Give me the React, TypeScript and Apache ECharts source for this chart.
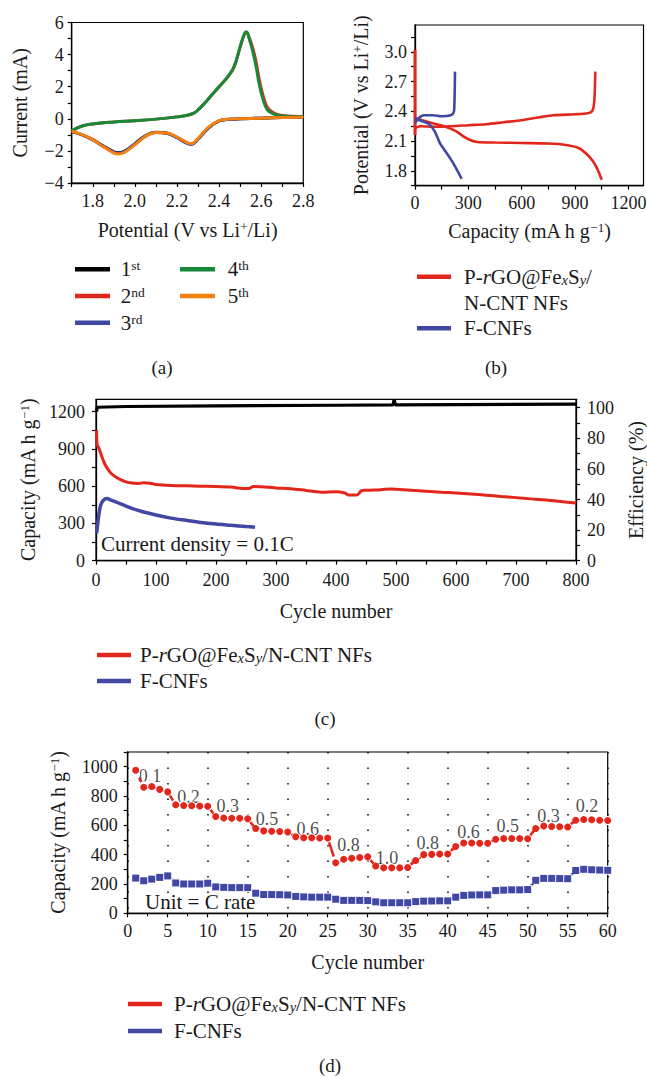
import React, { useEffect, useRef } from "react";
import * as echarts from "echarts";

const FONT = "Liberation Serif";
const INK = "#1a1a1a";
const RED = "#e3261c";
const BLUE = "#4148a3";
const GREEN = "#178a3a";
const ORANGE = "#f5820f";
const BLACK = "#000000";
const PINK = "#f29a96";
const LIGHTBLUE = "#9aa0d8";

// ---------- (a) cyclic voltammetry ----------
const cvPotRed = [1.70, 1.75, 1.80, 1.85, 1.90, 1.92, 1.95, 2.00, 2.05, 2.10, 2.15, 2.20, 2.25, 2.27, 2.30, 2.35, 2.40, 2.45, 2.50, 2.60, 2.70, 2.80];
const cv1st = [-0.80, -1.00, -1.30, -1.70, -2.06, -2.12, -2.02, -1.56, -1.06, -0.84, -0.88, -1.16, -1.52, -1.57, -1.26, -0.56, -0.13, -0.03, 0.00, 0.04, 0.08, 0.10];
const cv3rd = [-0.80, -1.00, -1.31, -1.72, -2.08, -2.14, -2.04, -1.58, -1.08, -0.86, -0.90, -1.18, -1.54, -1.58, -1.26, -0.56, -0.13, -0.03, 0.00, 0.04, 0.08, 0.10];
const cv5th = [-0.78, -0.98, -1.30, -1.74, -2.14, -2.20, -2.10, -1.62, -1.10, -0.86, -0.88, -1.14, -1.50, -1.54, -1.22, -0.52, -0.11, -0.02, 0.00, 0.04, 0.08, 0.10];
const cvPotOx = [1.70, 1.75, 1.80, 1.90, 2.00, 2.10, 2.20, 2.25, 2.28, 2.30, 2.33, 2.36, 2.40, 2.44, 2.47, 2.50, 2.52, 2.53, 2.545, 2.56, 2.575, 2.59, 2.61, 2.63, 2.66, 2.70, 2.80];
const cv2nd = [-0.75, -0.45, -0.32, -0.20, -0.12, -0.02, 0.12, 0.22, 0.35, 0.55, 0.95, 1.40, 2.00, 2.60, 3.20, 4.45, 5.25, 5.38, 5.00, 4.40, 3.60, 2.50, 1.40, 0.70, 0.36, 0.20, 0.13];
const cv4th = [-0.75, -0.45, -0.32, -0.20, -0.12, -0.02, 0.12, 0.22, 0.35, 0.55, 0.95, 1.40, 2.00, 2.60, 3.20, 4.50, 5.30, 5.42, 4.90, 4.20, 3.30, 2.20, 1.15, 0.55, 0.30, 0.18, 0.12];
const cvLabelX = [1.8, 2.0, 2.2, 2.4, 2.6, 2.8];
const cvTickX = [1.7, 1.8, 1.9, 2.0, 2.1, 2.2, 2.3, 2.4, 2.5, 2.6, 2.7, 2.8];
const cvLabelY = [-4, -2, 0, 2, 4, 6];
const cvTickY = [-4, -3, -2, -1, 0, 1, 2, 3, 4, 5, 6];

// ---------- (b) galvanostatic profiles ----------
const redDisCap = [0, 20, 60, 120, 180, 230, 270, 310, 350, 450, 600, 750, 850, 920, 965, 1000, 1025, 1050];
const redDisV = [2.33, 2.32, 2.30, 2.27, 2.24, 2.20, 2.15, 2.11, 2.09, 2.085, 2.08, 2.075, 2.06, 2.03, 1.97, 1.90, 1.82, 1.71];
const redChgCap = [0, 30, 100, 200, 300, 400, 500, 600, 700, 780, 900, 970, 995, 1005, 1010, 1014];
const redChgV = [2.23, 2.25, 2.245, 2.25, 2.26, 2.27, 2.29, 2.31, 2.34, 2.36, 2.37, 2.38, 2.40, 2.45, 2.55, 2.80];
const redInitCap = [0, 0];
const redInitV = [2.16, 3.02];
const blueDisCap = [0, 40, 80, 110, 140, 170, 200, 230, 262];
const blueDisV = [2.33, 2.30, 2.27, 2.20, 2.08, 2.00, 1.92, 1.83, 1.72];
const blueChgCap = [0, 20, 50, 100, 150, 200, 218, 222, 225];
const blueChgV = [2.28, 2.33, 2.36, 2.36, 2.35, 2.36, 2.39, 2.50, 2.80];
const gcdLabelX = [0, 300, 600, 900, 1200];
const gcdTickX = [0, 150, 300, 450, 600, 750, 900, 1050, 1200];
const gcdLabelY = [1.8, 2.1, 2.4, 2.7, 3.0];
const gcdTickY = [1.65, 1.8, 1.95, 2.1, 2.25, 2.4, 2.55, 2.7, 2.85, 3.0, 3.15];

// ---------- (c) long cycling ----------
const cycRed = [1, 2, 5, 10, 15, 20, 25, 30, 40, 50, 60, 70, 80, 90, 100, 125, 150, 175, 200, 225, 245, 255, 262, 275, 300, 325, 350, 375, 400, 415, 420, 435, 442, 450, 475, 490, 500, 525, 550, 575, 600, 625, 650, 675, 700, 725, 750, 775, 800];
const capRed = [1050, 935, 905, 835, 775, 735, 705, 685, 655, 635, 625, 622, 628, 624, 614, 606, 603, 600, 598, 593, 582, 582, 598, 595, 586, 580, 566, 552, 556, 545, 530, 530, 562, 567, 572, 578, 576, 568, 560, 552, 545, 537, 528, 518, 508, 498, 488, 476, 465];
const cycBlue = [1, 3, 5, 8, 12, 18, 25, 35, 50, 75, 100, 125, 150, 175, 200, 225, 250, 265];
const capBlue = [220, 300, 380, 450, 485, 500, 488, 470, 440, 398, 368, 343, 325, 308, 295, 285, 275, 270];
const cycEff = [1, 2, 50, 200, 400, 495, 497, 499, 600, 800];
const effVal = [97.5, 100.3, 100.8, 101.2, 101.6, 101.8, 105.5, 101.8, 102.0, 102.4];
const cycLabelX = [0, 100, 200, 300, 400, 500, 600, 700, 800];
const cycTickX = [0, 50, 100, 150, 200, 250, 300, 350, 400, 450, 500, 550, 600, 650, 700, 750, 800];
const cycLabelY = [0, 300, 600, 900, 1200];
const cycTickY = [0, 150, 300, 450, 600, 750, 900, 1050, 1200];
const effLabelY = [0, 20, 40, 60, 80, 100];
const effTickY = [0, 10, 20, 30, 40, 50, 60, 70, 80, 90, 100];

// ---------- (d) rate capability ----------
const rateCycles = [1, 2, 3, 4, 5, 6, 7, 8, 9, 10, 11, 12, 13, 14, 15, 16, 17, 18, 19, 20, 21, 22, 23, 24, 25, 26, 27, 28, 29, 30, 31, 32, 33, 34, 35, 36, 37, 38, 39, 40, 41, 42, 43, 44, 45, 46, 47, 48, 49, 50, 51, 52, 53, 54, 55, 56, 57, 58, 59, 60];
const rateRedDis = [975, 860, 865, 845, 828, 740, 735, 733, 732, 730, 660, 650, 648, 648, 645, 578, 562, 560, 558, 555, 522, 515, 515, 513, 513, 345, 368, 375, 380, 385, 322, 310, 310, 310, 312, 360, 400, 402, 405, 405, 455, 480, 480, 478, 478, 505, 510, 510, 510, 508, 578, 595, 592, 590, 588, 635, 640, 638, 635, 633];
const rateRedChg = [945, 870, 880, 850, 830, 745, 738, 733, 732, 730, 655, 650, 648, 648, 645, 560, 562, 560, 558, 555, 518, 515, 515, 513, 513, 360, 375, 378, 380, 385, 315, 310, 310, 310, 312, 395, 405, 402, 405, 405, 470, 482, 480, 478, 478, 518, 510, 510, 510, 508, 598, 595, 592, 590, 588, 650, 640, 638, 635, 633];
const rateBlueDis = [240, 222, 233, 245, 255, 207, 200, 200, 200, 205, 180, 177, 175, 175, 175, 137, 128, 128, 127, 125, 115, 112, 110, 110, 110, 96, 88, 88, 88, 87, 78, 72, 72, 72, 72, 80, 83, 84, 85, 85, 110, 122, 125, 126, 126, 155, 158, 160, 160, 162, 225, 238, 238, 237, 236, 292, 300, 297, 295, 293];
const rateBlueChg = [218, 222, 233, 245, 255, 207, 200, 200, 200, 205, 180, 177, 175, 175, 175, 137, 128, 128, 127, 125, 115, 112, 110, 110, 110, 96, 88, 88, 88, 87, 78, 72, 72, 72, 72, 80, 83, 84, 85, 85, 118, 122, 125, 126, 126, 155, 158, 160, 160, 162, 232, 238, 238, 237, 236, 305, 300, 297, 295, 293];
const rateLabels = ["0.1", "0.2", "0.3", "0.5", "0.6", "0.8", "1.0", "0.8", "0.6", "0.5", "0.3", "0.2"];
const rateLabelCycle = [2.8, 7.6, 12.5, 17.4, 22.5, 27.6, 32.4, 37.5, 42.6, 47.5, 52.6, 57.4];
const rateLabelCap = [936, 795, 733, 642, 574, 464, 380, 478, 553, 592, 664, 731];
const rateLabelY = [0, 200, 400, 600, 800, 1000];
const rateTickY = [0, 100, 200, 300, 400, 500, 600, 700, 800, 900, 1000, 1100];

const zip = (xs: number[], ys: number[]) => xs.map((x, i) => [x, ys[i]]);
const wrapT = (s: string) => "{t|" + s + "}";
const plain = (v: number) => wrapT(v < 0 ? "\u2212" + Math.abs(v) : String(v));
const oneDec = (v: number) => wrapT(v.toFixed(1));

const NAME_SIZE = 20;
const TICK_SIZE = 18;
const TEXT_SIZE = 21;

const RICH_AXIS = {
  t: { fontSize: NAME_SIZE, fontFamily: FONT, color: INK },
  sup: { fontSize: 13, verticalAlign: "top", fontFamily: FONT, color: INK },
};
const RICH_TICK = {
  t: { fontSize: TICK_SIZE, fontFamily: FONT, color: INK },
};
const RICH_G = {
  sup: { fontSize: 13.5, verticalAlign: "top", fontFamily: FONT, fill: INK },
  sub: { fontSize: 14.5, fontStyle: "italic", verticalAlign: "bottom", fontFamily: FONT, fill: INK },
  it: { fontSize: TEXT_SIZE, fontStyle: "italic", fontFamily: FONT, fill: INK },
};

const axisBase = (o: any) => {
  const { labelExtra, tickValues, ...rest } = o;
  return {
    type: "value",
    axisLine: { show: true, onZero: false, lineStyle: { color: BLACK, width: 1.3 } },
    axisTick: { show: true, inside: false, length: 4, lineStyle: { color: BLACK, width: 1.2 }, ...(tickValues ? { customValues: tickValues } : {}) },
    axisLabel: { color: INK, fontFamily: FONT, fontSize: TICK_SIZE, formatter: plain, rich: RICH_TICK, ...labelExtra },
    splitLine: { show: false },
    nameLocation: "middle",
    nameTextStyle: { color: INK, fontFamily: FONT, fontSize: NAME_SIZE, rich: RICH_AXIS },
    ...rest,
  };
};

const lineSeries = (name: string, x: number, y: number, data: number[][], color: string, width: number, smooth: any) => ({
  name,
  type: "line",
  xAxisIndex: x,
  yAxisIndex: y,
  data,
  showSymbol: false,
  smooth,
  lineStyle: { color, width },
  itemStyle: { color },
});

const gText = (x: number, y: number, text: string, extra: any = {}) => ({
  type: "text",
  x,
  y,
  silent: true,
  style: { text, fontFamily: FONT, fontSize: TEXT_SIZE, fill: INK, align: "left", verticalAlign: "middle", rich: RICH_G, ...extra },
});
const gLine = (x1: number, x2: number, y: number, color: string) => ({
  type: "line",
  silent: true,
  shape: { x1, y1: y, x2, y2: y },
  style: { stroke: color, lineWidth: 4.5 },
});

export default function App() {
  const ref = useRef<HTMLDivElement>(null);
  useEffect(() => {
    if (!ref.current) return;
    const chart = echarts.init(ref.current, undefined, { renderer: "svg" });
    const gridStyle = {
      show: true, borderColor: BLACK, borderWidth: 1.2, backgroundColor: "transparent",
      containLabel: false, outerBoundsMode: "none",
    };
    const option: any = {
      animation: false,
      backgroundColor: "#ffffff",
      textStyle: { fontFamily: FONT },
      grid: [
        { ...gridStyle, left: 71.7, top: 22.5, width: 231.6, height: 160.5 },
        { ...gridStyle, left: 415, top: 25, width: 228.5, height: 160.7 },
        { ...gridStyle, left: 96, top: 399.3, width: 480, height: 161.4 },
        { ...gridStyle, left: 127.7, top: 752, width: 480, height: 161.3 },
      ],
      xAxis: [
        axisBase({
          gridIndex: 0, min: 1.7, max: 2.8,
          labelExtra: { customValues: cvLabelX, formatter: oneDec, margin: 9 },
          tickValues: cvTickX,
          name: "{t|Potential (V vs Li}{sup|+}{t|/Li)}", nameGap: 37,
        }),
        axisBase({
          gridIndex: 1, min: 0, max: 1285,
          labelExtra: { customValues: gcdLabelX, margin: 8 },
          tickValues: gcdTickX,
          name: "{t|Capacity (mA h g}{sup|\u22121}{t|)}", nameGap: 35,
        }),
        axisBase({
          gridIndex: 2, min: 0, max: 800,
          labelExtra: { customValues: cycLabelX, margin: 10 },
          tickValues: cycTickX,
          name: "{t|Cycle number}", nameGap: 40,
        }),
        axisBase({
          gridIndex: 3, min: 0, max: 60, interval: 5,
          labelExtra: { margin: 9 },
          minorTick: { show: true, splitNumber: 2, length: 3, lineStyle: { color: BLACK, width: 1 } },
          splitLine: { show: true, lineStyle: { color: BLACK, width: 1.5, type: [1.5, 14] } },
          name: "{t|Cycle number}", nameGap: 39,
        }),
      ],
      yAxis: [
        axisBase({
          gridIndex: 0, min: -4, max: 6,
          labelExtra: { customValues: cvLabelY, margin: 8 },
          tickValues: cvTickY,
          name: "{t|Current (mA)}", nameGap: 42,
        }),
        axisBase({
          gridIndex: 1, min: 1.65, max: 3.27,
          labelExtra: { customValues: gcdLabelY, formatter: oneDec, margin: 8 },
          tickValues: gcdTickY,
          name: "{t|Potential (V vs Li}{sup|+}{t|/Li)}", nameGap: 44,
        }),
        axisBase({
          gridIndex: 2, min: 0, max: 1300,
          labelExtra: { customValues: cycLabelY, margin: 11 },
          tickValues: cycTickY,
          name: "{t|Capacity (mA h g}{sup|\u22121}{t|)}", nameGap: 52,
        }),
        axisBase({
          gridIndex: 2, min: 0, max: 105.5, position: "right",
          labelExtra: { customValues: effLabelY, margin: 11 },
          tickValues: effTickY,
          name: "{t|Efficiency (%)}", nameGap: 50, nameRotate: 90,
        }),
        axisBase({
          gridIndex: 3, min: 0, max: 1100,
          labelExtra: { customValues: rateLabelY, margin: 10 },
          tickValues: rateTickY,
          name: "{t|Capacity (mA h g}{sup|\u22121}{t|)}", nameGap: 60,
        }),
      ],
      series: [
        // (a)
        lineSeries("1st", 0, 0, zip(cvPotRed, cv1st), BLACK, 3, 0.4),
        lineSeries("2nd", 0, 0, zip(cvPotOx, cv2nd), RED, 3, 0.4),
        lineSeries("3rd", 0, 0, zip(cvPotRed, cv3rd), BLUE, 3, 0.4),
        lineSeries("4th", 0, 0, zip(cvPotOx, cv4th), GREEN, 3, 0.4),
        lineSeries("5th", 0, 0, zip(cvPotRed, cv5th), ORANGE, 3, 0.4),
        // (b)
        lineSeries("P-rGO@FexSy/N-CNT NFs discharge", 1, 1, zip(redDisCap, redDisV), RED, 2.6, 0.3),
        lineSeries("P-rGO@FexSy/N-CNT NFs charge", 1, 1, zip(redChgCap, redChgV), RED, 2.6, 0.3),
        lineSeries("P-rGO@FexSy/N-CNT NFs initial", 1, 1, zip(redInitCap, redInitV), RED, 3, false),
        lineSeries("F-CNFs discharge", 1, 1, zip(blueDisCap, blueDisV), BLUE, 2.6, 0.3),
        lineSeries("F-CNFs charge", 1, 1, zip(blueChgCap, blueChgV), BLUE, 2.6, 0.3),
        // (c)
        lineSeries("Efficiency", 2, 3, zip(cycEff, effVal), BLACK, 3.2, false),
        lineSeries("P-rGO@FexSy/N-CNT NFs cycling", 2, 2, zip(cycRed, capRed), RED, 3, 0.3),
        lineSeries("F-CNFs cycling", 2, 2, zip(cycBlue, capBlue), BLUE, 3.5, 0.3),
        // (d)
        {
          name: "P-rGO charge", type: "line", xAxisIndex: 3, yAxisIndex: 4,
          data: zip(rateCycles, rateRedChg), symbol: "emptyCircle", symbolSize: 7,
          lineStyle: { color: PINK, width: 1.5 }, itemStyle: { color: "#fff", borderColor: PINK, borderWidth: 1.2 },
        },
        {
          name: "P-rGO discharge", type: "line", xAxisIndex: 3, yAxisIndex: 4,
          data: zip(rateCycles, rateRedDis), symbol: "circle", symbolSize: 7,
          lineStyle: { color: RED, width: 2.5 }, itemStyle: { color: RED },
        },
        {
          name: "F-CNFs charge", type: "line", xAxisIndex: 3, yAxisIndex: 4,
          data: zip(rateCycles, rateBlueChg), symbol: "emptyRect", symbolSize: 7,
          lineStyle: { color: LIGHTBLUE, width: 1.5 }, itemStyle: { color: "#fff", borderColor: LIGHTBLUE, borderWidth: 1.2 },
        },
        {
          name: "F-CNFs discharge", type: "line", xAxisIndex: 3, yAxisIndex: 4,
          data: zip(rateCycles, rateBlueDis), symbol: "rect", symbolSize: 7,
          lineStyle: { color: BLUE, width: 2.5 }, itemStyle: { color: BLUE },
        },
        {
          name: "C rate", type: "scatter", xAxisIndex: 3, yAxisIndex: 4, symbolSize: 0, silent: true,
          data: rateLabels.map((t, i) => ({ name: t, value: [rateLabelCycle[i], rateLabelCap[i]] })),
          label: { show: true, position: "inside", formatter: "{t|{b}}", color: INK, fontFamily: FONT, fontSize: TICK_SIZE, rich: RICH_TICK },
        },
      ],
      graphic: [
        // legend (a)
        gLine(75, 110, 269.3, BLACK), gText(120.7, 269.3, "1{sup|st}"),
        gLine(75, 110, 296, RED), gText(120.7, 296, "2{sup|nd}"),
        gLine(75, 110, 322.7, BLUE), gText(120.7, 322.7, "3{sup|rd}"),
        gLine(180, 215, 269.3, GREEN), gText(227.7, 269.3, "4{sup|th}"),
        gLine(180, 215, 296, ORANGE), gText(227.7, 296, "5{sup|th}"),
        // legend (b)
        gLine(417, 451, 276.7, RED), gText(464, 276.7, "P-{it|r}GO@Fe{sub|x}S{sub|y}/"),
        gText(464, 303.3, "N-CNT NFs"),
        gLine(417, 451, 328.3, BLUE), gText(464, 328.3, "F-CNFs"),
        // panel tags
        gText(162, 367, "(a)", { align: "center", fontSize: 19 }),
        gText(496, 367, "(b)", { align: "center", fontSize: 19 }),
        gText(325, 718, "(c)", { align: "center", fontSize: 19 }),
        gText(330, 1065.5, "(d)", { align: "center", fontSize: 19 }),
        // annotations
        gText(101, 544, "Current density = 0.1C"),
        gText(145, 901.7, "Unit = C rate"),
        // legend (c)
        gLine(97, 131, 655, RED), gText(140, 655, "P-{it|r}GO@Fe{sub|x}S{sub|y}/N-CNT NFs"),
        gLine(97, 131, 681, BLUE), gText(140, 681, "F-CNFs"),
        // legend (d)
        gLine(128, 162, 1004, RED), gText(174, 1004, "P-{it|r}GO@Fe{sub|x}S{sub|y}/N-CNT NFs"),
        gLine(128, 162, 1031, BLUE), gText(174, 1031, "F-CNFs"),
      ],
    };
    chart.setOption(option);
    return () => chart.dispose();
  }, []);
  return (
    <div
      ref={ref}
      style={{ position: "fixed", left: 0, top: 0, width: 647, height: 1078, background: "#fff" }}
    />
  );
}
